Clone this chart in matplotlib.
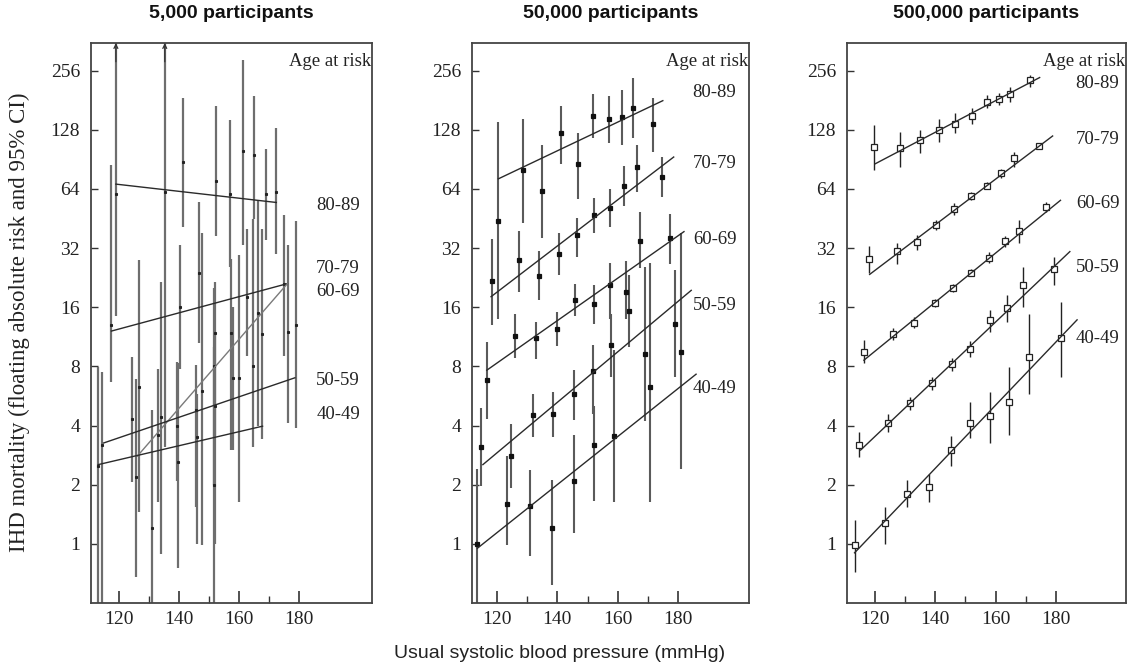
import matplotlib
matplotlib.use("Agg")
import matplotlib.pyplot as plt
from matplotlib.ticker import FixedLocator, FixedFormatter, NullFormatter

# ---------------- data ----------------
ages = ["80-89", "70-79", "60-69", "50-59", "40-49"]
panel_titles = ["5,000 participants", "50,000 participants", "500,000 participants"]
y_ticks = [1, 2, 4, 8, 16, 32, 64, 128, 256]
y_tick_labels = ["1", "2", "4", "8", "16", "32", "64", "128", "256"]
x_ticks = [120, 140, 160, 180]
x_minor_ticks = [130, 150, 170]
x_label = "Usual systolic blood pressure (mmHg)"
y_label = "IHD mortality (floating absolute risk and 95% CI)"
legend_title = "Age at risk"

# Panel 1: 5,000 participants (series in order of `ages`)
p1_x = [[118.9, 135.2, 141.3, 152.2, 157.0, 161.3, 164.8, 169.1, 172.2],
        [117.3, 140.3, 146.7, 152.0, 157.4, 162.6, 167.6, 174.8],
        [126.7, 133.9, 147.6, 151.7, 157.8, 164.7, 166.4, 176.4],
        [114.4, 124.2, 132.8, 139.6, 145.6, 151.9, 160.0, 178.8],
        [112.8, 125.6, 130.9, 139.2, 146.1, 151.6]]
p1_v = [[60, 62, 88, 70, 60, 100, 95, 60, 62],
        [13, 16, 24, 11.8, 11.8, 18, 11.7, 21],
        [6.3, 4.4, 6, 8, 7, 8, 15, 12],
        [3.2, 4.3, 3.6, 2.6, 4.8, 5, 7, 13],
        [2.5, 2.2, 1.2, 4.0, 3.5, 2]]
p1_lo = [[14.5, 3.1, 41, 37, 25.7, 33, 45, 35, 30],
         [6.7, 7.8, 10.5, 3.5, 3.0, 9, 3.4, 9],
         [1.45, 0.89, 0.99, 2.0, 3.0, 3.1, 4.0, 4.1],
         [0.3, 2.07, 1.63, 0.75, 1.54, 1.0, 1.63, 3.9],
         [0.3, 0.68, 0.3, 2.1, 1.0, 0.3]]
p1_hi = [[1000, 1000, 185, 169, 144, 290, 191, 102, 130],
         [85, 33, 55, 21.5, 28.3, 40, 40, 47],
         [27.8, 21.5, 38, 20, 16, 45, 56, 33],
         [7.5, 8.9, 7.8, 8.3, 8.1, 12, 29.5, 44],
         [7.9, 6.9, 4.8, 8.4, 5.8, 10]]
p1_fit_x0 = [118.9, 117.4, 126.1, 114.8, 113.0]
p1_fit_v0 = [67.7, 12.1, 2.8, 3.26, 2.53]
p1_fit_x1 = [172.4, 176.1, 176.1, 178.6, 167.8]
p1_fit_v1 = [54.6, 21.1, 21.1, 7.0, 3.97]

# Panel 2: 50,000 participants
p2_x = [[120.5, 128.5, 135.1, 141.2, 146.7, 151.9, 157.0, 161.4, 165.0, 171.7],
        [118.4, 127.5, 134.1, 140.7, 146.4, 152.2, 157.5, 161.9, 166.2, 174.5],
        [116.7, 126.0, 132.9, 139.8, 145.9, 152.0, 157.5, 162.6, 167.5, 177.4],
        [114.7, 124.7, 131.9, 138.7, 145.5, 151.9, 157.9, 163.7, 169.1, 179.0],
        [113.6, 123.5, 131.0, 138.1, 145.5, 152.1, 158.7, 170.5, 180.8]]
p2_v = [[44, 80, 62.7, 123, 85.5, 151, 145, 148, 166, 137],
        [21.8, 27.8, 23.2, 30, 37.3, 47, 51.4, 66, 82.7, 73.5],
        [6.8, 11.4, 11.1, 12.4, 17.5, 16.7, 20.7, 19.2, 34.9, 35.8],
        [3.11, 2.8, 4.54, 4.58, 5.8, 7.6, 10.3, 15.3, 9.2, 13.1],
        [1.0, 1.6, 1.55, 1.2, 2.1, 3.17, 3.53, 6.25, 9.5]]
p2_lo = [[14, 43, 35.9, 86, 56.7, 116, 109, 107, 116, 99],
         [13, 19.2, 17.4, 23.3, 28.9, 38.3, 41, 52.4, 61.8, 58],
         [4.3, 8.8, 8.7, 10.1, 14.4, 13.2, 14, 14, 25.2, 26.7],
         [1.96, 1.93, 3.5, 3.48, 4.29, 4.6, 7.1, 10, 4.2, 7.1],
         [0.3, 0.99, 0.87, 0.62, 1.13, 1.65, 1.63, 1.64, 2.4]]
p2_hi = [[140, 145, 107, 169, 123, 195, 190, 204, 234, 185],
         [35.4, 39, 31, 38, 45.3, 57.3, 63.6, 83.8, 107, 92.6],
         [10.6, 14.7, 13.5, 15.2, 21.1, 20.7, 27, 27.5, 49, 47.7],
         [4.9, 4.06, 5.8, 5.9, 7.7, 10.3, 14.7, 23.3, 25.7, 24.8],
         [2.4, 2.8, 2.37, 2.12, 3.6, 5.0, 9.7, 27, 38]]
p2_fit_x0 = [120.5, 118.1, 116.7, 115.4, 113.6]
p2_fit_v0 = [72, 18.1, 7.65, 2.53, 0.95]
p2_fit_x1 = [174.9, 178.5, 181.9, 184.3, 185.9]
p2_fit_v1 = [180, 93, 38.8, 19.5, 7.3]

# Panel 3: 500,000 participants
p3_x = [[119.7, 128.5, 135.1, 141.2, 146.7, 152.2, 157.0, 161.1, 164.9, 171.3],
        [118.0, 127.4, 134.0, 140.4, 146.2, 152.0, 157.2, 161.8, 166.2, 174.4],
        [116.4, 126.0, 132.9, 139.8, 145.9, 151.9, 157.7, 163.0, 167.7, 176.8],
        [114.7, 124.4, 131.8, 139.0, 145.6, 151.7, 158.1, 163.8, 169.0, 179.5],
        [113.3, 123.3, 130.7, 137.9, 145.1, 151.7, 158.3, 164.6, 171.0, 181.8]]
p3_v = [[105, 103, 114, 128, 137, 150, 178, 184, 195, 229],
        [28, 30.9, 34.5, 42, 50.3, 59, 66.5, 77, 92, 106],
        [9.5, 11.7, 13.3, 16.8, 20.1, 24, 28.6, 34.7, 39, 52],
        [3.2, 4.14, 5.2, 6.6, 8.2, 9.8, 13.7, 15.8, 20.7, 24.9],
        [0.99, 1.27, 1.8, 1.95, 3.0, 4.14, 4.46, 5.3, 8.9, 11.1]]
p3_lo = [[80, 83, 98, 111, 123, 137, 165, 171, 178, 212],
         [23.8, 26.7, 31.3, 39.5, 47, 56.5, 64, 73, 83, 102],
         [8.3, 10.9, 12.5, 16.0, 19.2, 23, 26.8, 32.5, 33.8, 49],
         [2.77, 3.7, 4.8, 6.1, 7.6, 8.9, 12, 13.5, 16.1, 20.7],
         [0.72, 1.0, 1.54, 1.64, 2.48, 3.46, 3.27, 3.57, 5.8, 7.1]]
p3_hi = [[136, 125, 128, 145, 155, 165, 193, 198, 212, 243],
         [32.7, 34, 37.3, 44.4, 54, 61.5, 69, 81, 99, 110],
         [10.9, 12.5, 14.2, 17.6, 21, 25, 30.5, 37, 44.4, 55],
         [3.7, 4.6, 5.6, 7.1, 8.8, 10.8, 15.5, 18.5, 25.7, 28.9],
         [1.33, 1.54, 2.12, 2.28, 3.53, 5.3, 5.96, 7.9, 14.8, 17]]
p3_fit_x0 = [120.2, 118.3, 116.4, 115.3, 113.3]
p3_fit_v0 = [86, 23.5, 8.6, 3.0, 0.9]
p3_fit_x1 = [174.6, 178.9, 181.5, 184.6, 187.0]
p3_fit_v1 = [236, 119, 56, 30.7, 13.8]

# age-label heights (value axis) per panel
p1_label_v = [53, 25.2, 19.2, 6.8, 4.57]
p2_label_v = [197, 86, 35.5, 16.4, 6.2]
p3_label_v = [221, 114, 54, 25.5, 11.1]

# ---------------- layout / style ----------------
W, H = 1127, 667
fig = plt.figure(figsize=(W / 100, H / 100), dpi=100)
SERIF = ["Liberation Serif", "DejaVu Serif"]
SANS = ["Liberation Sans", "DejaVu Sans"]

ax_px = [(91, 372), (472, 749), (847, 1126)]
top_px, bot_px = 42.7, 603
xlims = [(110.6, 204.3), (111.8, 203.4), (110.8, 203.2)]
ylim = (0.5, 355)
label_x = [193.0, 192.0, 193.8]

panels = [
    (p1_x, p1_v, p1_lo, p1_hi, p1_fit_x0, p1_fit_v0, p1_fit_x1, p1_fit_v1, p1_label_v),
    (p2_x, p2_v, p2_lo, p2_hi, p2_fit_x0, p2_fit_v0, p2_fit_x1, p2_fit_v1, p2_label_v),
    (p3_x, p3_v, p3_lo, p3_hi, p3_fit_x0, p3_fit_v0, p3_fit_x1, p3_fit_v1, p3_label_v),
]
eb_style = [
    dict(ecolor="#6e6e6e", elinewidth=1.6, ms=1.3, mfc="#222", mec="#222"),
    dict(ecolor="#5a5a5a", elinewidth=1.5, ms=2.4, mfc="#111", mec="#111"),
    dict(ecolor="#222222", elinewidth=1.0, ms=5.0, mfc="white", mec="#222"),
]

for i, (xs, vs, los, his, fx0, fv0, fx1, fv1, lab_v) in enumerate(panels):
    l, r = ax_px[i]
    ax = fig.add_axes([l / W, 1 - bot_px / H, (r - l) / W, (bot_px - top_px) / H])
    ax.set_yscale("log", base=2)
    ax.set_xlim(*xlims[i])
    ax.set_ylim(*ylim)
    st = eb_style[i]
    for k in range(len(ages)):
        x, v, lo, hi = xs[k], vs[k], los[k], his[k]
        yerr = [[vv - a for vv, a in zip(v, lo)], [b - vv for vv, b in zip(v, hi)]]
        ax.errorbar(x, v, yerr=yerr, fmt="s", capsize=0, ecolor=st["ecolor"],
                    elinewidth=st["elinewidth"], ms=st["ms"], mfc=st["mfc"],
                    mec=st["mec"], mew=0.9, zorder=2)
        for xx, b in zip(x, hi):
            if b > ylim[1]:
                ax.annotate("", xy=(xx, ylim[1] * 0.995), xytext=(xx, ylim[1] / 1.25),
                            arrowprops=dict(arrowstyle="->", lw=0.9, color="#333",
                                            mutation_scale=7, shrinkA=0, shrinkB=0),
                            zorder=3)
        lc = "#7a7a7a" if (i == 0 and k == 2) else "#2a2a2a"
        ax.plot([fx0[k], fx1[k]], [fv0[k], fv1[k]], color=lc, lw=1.0, zorder=3)
        ax.text(label_x[i], lab_v[k], ages[k], ha="center", va="center",
                fontsize=13.5, family=SERIF, color="#222")
    ax.text(xlims[i][1] - 0.4, 286, legend_title, ha="right", va="center",
            fontsize=13.5, family=SERIF, color="#222")

    ax.yaxis.set_major_locator(FixedLocator(y_ticks))
    ax.yaxis.set_major_formatter(FixedFormatter(y_tick_labels))
    ax.yaxis.set_minor_locator(FixedLocator([]))
    ax.xaxis.set_major_locator(FixedLocator(x_ticks))
    ax.xaxis.set_minor_locator(FixedLocator(x_minor_ticks))
    ax.xaxis.set_minor_formatter(NullFormatter())
    ax.tick_params(axis="x", which="major", direction="in", length=9, width=1.2,
                   color="#333", pad=6, labelsize=14)
    ax.tick_params(axis="x", which="minor", direction="in", length=5, width=1.0,
                   color="#333")
    ax.tick_params(axis="y", which="major", direction="in", length=5, width=1.0,
                   color="#333", pad=8, labelsize=14)
    for lab in ax.get_xticklabels() + ax.get_yticklabels():
        lab.set_family(SERIF)
        lab.set_color("#222")
    for sp in ax.spines.values():
        sp.set_color("#444")
        sp.set_linewidth(1.3)

    fig.text((l + r) / 2 / W, 1 - 13 / H, panel_titles[i], ha="center", va="center",
             fontsize=14, fontweight="bold", family=SANS, color="#111")

fig.text(560 / W, 1 - 654 / H, x_label, ha="center", va="center",
         fontsize=14, family=SANS, color="#222")
fig.text(19 / W, 1 - 322 / H, y_label, ha="center", va="center", rotation=90,
         fontsize=16.5, family=SERIF, color="#222")

fig.savefig("out.png", dpi=100)
